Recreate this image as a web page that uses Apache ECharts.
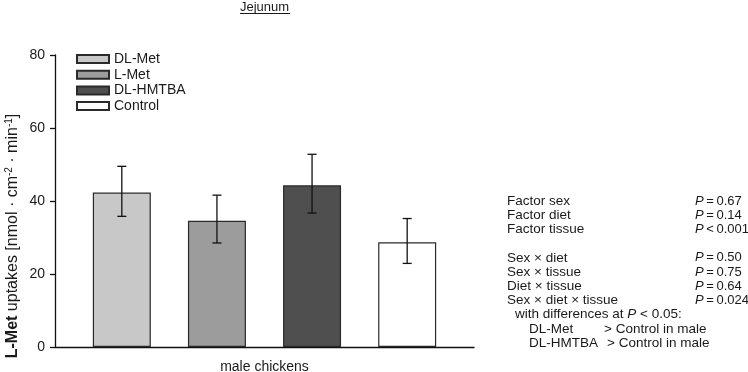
<!DOCTYPE html>
<html>
<head>
<meta charset="utf-8">
<script src="https://cdn.jsdelivr.net/npm/echarts@6/dist/echarts.min.js"></script>
<style>
  html, body { margin: 0; padding: 0; background: #fff; }
  #chart { width: 748px; height: 372px; }
</style>
</head>
<body>
<div id="chart"></div>
<script>
const categories = ['male chickens']
const groups = ['DL-Met', 'L-Met', 'DL-HMTBA', 'Control']
const means = [42.3, 34.6, 44.3, 28.7]
const errLow = [35.8, 28.5, 36.7, 22.9]
const errHigh = [49.5, 41.6, 52.8, 35.2]
const yTicks = [0, 20, 40, 60, 80]

// stats block on the right
const statLabels = ['Factor sex', 'Factor diet', 'Factor tissue', '', 'Sex × diet', 'Sex × tissue', 'Diet × tissue', 'Sex × diet × tissue']
const statValues = ['= 0.67', '= 0.14', '< 0.001', '', '= 0.50', '= 0.75', '= 0.64', '= 0.024']
const diffRows = [['DL-Met', '> Control in male'], ['DL-HMTBA', '> Control in male']]

const colors = ['#c8c8c8', '#9c9c9c', '#4f4f4f', '#ffffff']
const font = 'Liberation Sans, Arial, sans-serif'
const ink = '#1a1a1a'
const barW = 58
const barGap = 0.64

const chart = echarts.init(document.getElementById('chart'))

const barSeries = groups.map((g, i) => ({
  name: g,
  type: 'bar',
  data: [means[i]],
  barWidth: barW,
  barGap: (barGap * 100) + '%',
  itemStyle: { color: colors[i], borderColor: '#2a2a2a', borderWidth: 1.2 },
  emphasis: { disabled: true },
  z: 2
}))

const errSeries = {
  type: 'custom',
  data: groups.map((g, i) => [0, errLow[i], errHigh[i], i]),
  renderItem(params, api) {
    const idx = api.value(3)
    const step = barW * (1 + barGap)
    const dx = (idx - (groups.length - 1) / 2) * step
    const lo = api.coord([api.value(0), api.value(1)])
    const hi = api.coord([api.value(0), api.value(2)])
    const x = lo[0] + dx
    const cap = 4.5
    const style = { stroke: '#111', lineWidth: 1.3 }
    return {
      type: 'group',
      children: [
        { type: 'line', shape: { x1: x, y1: lo[1], x2: x, y2: hi[1] }, style },
        { type: 'line', shape: { x1: x - cap, y1: lo[1], x2: x + cap, y2: lo[1] }, style },
        { type: 'line', shape: { x1: x - cap, y1: hi[1], x2: x + cap, y2: hi[1] }, style }
      ]
    }
  },
  z: 5,
  silent: true
}

const rowH = 14.2
const statTop = 201
const sp = '\u2009'
const graphics = [
  // title with underline
  { type: 'text', left: 240, top: 1, style: { text: 'Jejunum', font: '13px ' + font, fill: ink } },
  { type: 'rect', shape: { x: 240, y: 13, width: 50, height: 1 }, style: { fill: ink } },
  // y axis name
  {
    type: 'text', x: 13, y: 236, rotation: Math.PI / 2,
    style: {
      text: '{b|L-Met} uptakes [nmol · cm{s|-2} · min{s|-1}]',
      fill: ink, font: '16px ' + font, align: 'center', verticalAlign: 'middle',
      rich: {
        b: { fontWeight: 'bold', fontSize: 16, fontFamily: font, fill: ink },
        s: { fontSize: 10, fontFamily: font, verticalAlign: 'top', padding: [0, 0, 8, 0] }
      }
    }
  }
]

statLabels.forEach((t, i) => {
  if (!t) return
  const y = statTop + i * rowH
  graphics.push({ type: 'text', x: 507, y, style: { text: t, font: '13.5px ' + font, fill: ink, verticalAlign: 'middle' } })
  graphics.push({
    type: 'text', x: 695, y,
    style: {
      text: '{i|P}' + sp + statValues[i].replace(' ', sp), font: '13px ' + font, fill: ink, verticalAlign: 'middle',
      rich: { i: { fontStyle: 'italic', fontSize: 13, fontFamily: font } }
    }
  })
})
graphics.push({
  type: 'text', x: 515, y: statTop + 8 * rowH,
  style: {
    text: 'with differences at {i|P} < 0.05:', font: '13.5px ' + font, fill: ink, verticalAlign: 'middle',
    rich: { i: { fontStyle: 'italic', fontSize: 13.5, fontFamily: font } }
  }
})
diffRows.forEach((r, k) => {
  const y = statTop + (9 + k) * rowH
  graphics.push({ type: 'text', x: 529, y, style: { text: r[0], font: '13.5px ' + font, fill: ink, verticalAlign: 'middle' } })
  graphics.push({ type: 'text', x: k === 0 ? 604 : 607, y, style: { text: r[1], font: '13.5px ' + font, fill: ink, verticalAlign: 'middle' } })
})

chart.setOption({
  animation: false,
  backgroundColor: '#fff',
  grid: { left: 55, right: 274, top: 55, bottom: 25, outerBoundsMode: 'none' },
  legend: {
    data: groups,
    orient: 'vertical',
    left: 71,
    top: 47,
    icon: 'rect',
    itemWidth: 32,
    itemHeight: 8,
    itemGap: 1.7,
    textStyle: { fontSize: 14, fontFamily: font, color: ink, lineHeight: 14 },
    selectedMode: false
  },
  xAxis: {
    type: 'category',
    data: categories,
    axisLine: { lineStyle: { color: '#111', width: 1.3 } },
    axisTick: { show: false },
    axisLabel: { fontSize: 14, fontFamily: font, color: ink, margin: 13 }
  },
  yAxis: {
    type: 'value',
    min: yTicks[0],
    max: yTicks[yTicks.length - 1],
    interval: 20,
    axisLine: { show: true, lineStyle: { color: '#111', width: 1.3 } },
    axisTick: { show: true, length: 5, lineStyle: { color: '#111', width: 1.3 } },
    splitLine: { show: false },
    axisLabel: { fontSize: 14, fontFamily: font, color: ink, margin: 10 }
  },
  graphic: graphics,
  series: [...barSeries, errSeries]
})
</script>
</body>
</html>
